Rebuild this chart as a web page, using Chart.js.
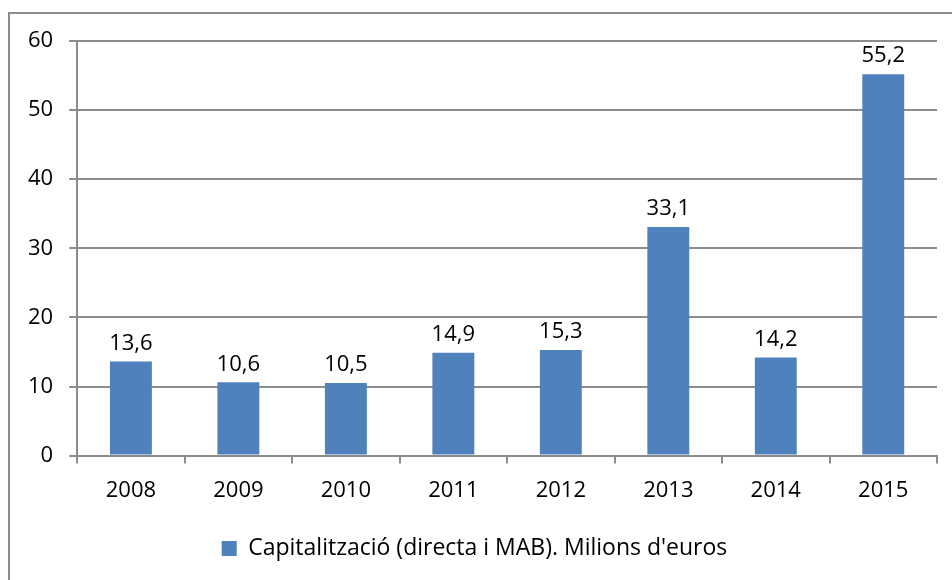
<!DOCTYPE html>
<html>
<head>
<meta charset="utf-8">
<script src="https://cdn.jsdelivr.net/npm/chart.js@4/dist/chart.umd.min.js"></script>
<style>
  body { margin: 0; background: #fff; }
  #wrap { position: relative; width: 952px; height: 580px; overflow: hidden; }
  #frame { position: absolute; left: 8px; top: 12px; width: 960px; height: 600px; border: 2px solid #8c8c8c; box-sizing: border-box; }
  #barChart { position: absolute; left: 0; top: 0; }
</style>
</head>
<body>
<div id="wrap">
  <div id="frame"></div>
  <canvas id="barChart" width="952" height="580"></canvas>
</div>
<script>
let years = ['2008', '2009', '2010', '2011', '2012', '2013', '2014', '2015'];
let values = [13.6, 10.6, 10.5, 14.9, 15.3, 33.1, 14.2, 55.2];
let yTicks = [0, 10, 20, 30, 40, 50, 60];
let seriesLabel = "Capitalització (directa i MAB). Milions d'euros";

let fontFamily = "'Open Sans', 'Noto Sans', sans-serif";

//Draw the value above each bar, with a decimal comma
const valueLabels = {
    id: 'valueLabels',
    afterDatasetsDraw(chart) {
        let c = chart.ctx;
        let meta = chart.getDatasetMeta(0);
        c.save();
        c.font = '22px ' + fontFamily;
        c.fillStyle = '#000';
        c.textAlign = 'center';
        c.textBaseline = 'bottom';
        meta.data.forEach(function (bar, i) {
            c.fillText(String(values[i]).replace('.', ','), bar.x, bar.y - 7);
        });
        c.restore();
    }
};

let ctx = document.getElementById('barChart').getContext('2d');
let chart = new Chart(ctx, {
    type: 'bar',
    plugins: [valueLabels],
    data: {
        labels: years,
        datasets: [{
            label: seriesLabel,
            data: values,
            backgroundColor: '#4f81bd',
            barPercentage: 0.39,
            categoryPercentage: 1
        }]
    },
    options: {
        responsive: false,
        animation: { duration: 0 },
        layout: { padding: { left: 12, right: 15, top: 41, bottom: 10 } },
        plugins: {
            tooltip: { enabled: false },
            legend: {
                position: 'bottom',
                labels: {
                    boxWidth: 15,
                    boxHeight: 15,
                    padding: 19,
                    color: '#000',
                    font: { family: fontFamily, size: 23 }
                }
            }
        },
        scales: {
            x: {
                grid: { drawOnChartArea: false, drawTicks: true, tickLength: 8, color: '#8c8c8c', lineWidth: 2 },
                border: { color: '#8c8c8c', width: 2 },
                ticks: { color: '#000', padding: 14, font: { family: fontFamily, size: 22 } }
            },
            y: {
                min: 0,
                max: 60,
                afterBuildTicks: function (scale) {
                    scale.ticks = yTicks.map(function (v) { return { value: v }; });
                },
                grid: { color: '#8c8c8c', lineWidth: 2, tickLength: 8 },
                border: { color: '#8c8c8c', width: 2 },
                ticks: { color: '#000', padding: 16, font: { family: fontFamily, size: 22 } }
            }
        }
    }
});
</script>
</body>
</html>
